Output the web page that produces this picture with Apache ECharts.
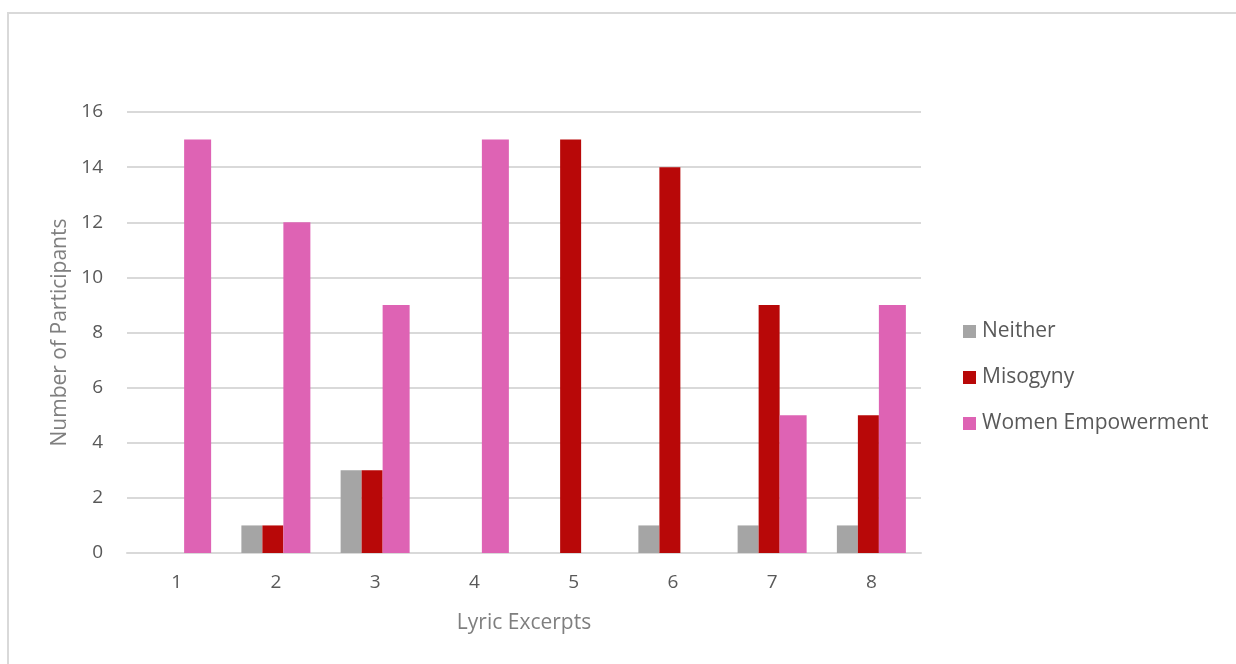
<!DOCTYPE html>
<html>
<head>
<meta charset="utf-8">
<script src="https://cdn.jsdelivr.net/npm/echarts@6/dist/echarts.min.js"></script>
<style>
  html, body { margin: 0; padding: 0; background: #fff; }
  #frame { position: absolute; left: 7px; top: 12px; width: 1240px; height: 670px; border: 2px solid #d9d9d9; box-sizing: border-box; }
  #chart { position: absolute; left: 0; top: 0; width: 1236px; height: 664px; }
</style>
</head>
<body>
<div id="frame"></div>
<div id="chart"></div>
<script>
const categories = ['1', '2', '3', '4', '5', '6', '7', '8'];
const neither = [0, 1, 3, 0, 0, 1, 1, 1];
const misogyny = [0, 1, 3, 0, 15, 14, 9, 5];
const empowerment = [15, 12, 9, 15, 0, 0, 5, 9];
const seriesNames = ['Neither', 'Misogyny', 'Women Empowerment'];

const font = 'Open Sans';
const chart = echarts.init(document.getElementById('chart'), null, { renderer: 'canvas' });

chart.setOption({
  animation: false,
  textStyle: { fontFamily: font },
  grid: { left: 127, right: 315, top: 112, bottom: 111 },
  legend: {
    orient: 'vertical',
    left: 958,
    top: 316,
    itemWidth: 13,
    itemHeight: 13,
    itemGap: 25,
    icon: 'rect',
    textStyle: { fontFamily: font, fontSize: 21, color: '#595959', padding: [0, 0, 0, 1] },
    data: seriesNames
  },
  xAxis: {
    type: 'category',
    data: categories,
    name: 'Lyric Excerpts',
    nameLocation: 'middle',
    nameGap: 60,
    nameTextStyle: { fontSize: 21, color: '#7f7f7f', fontFamily: font },
    axisLine: { lineStyle: { color: '#d9d9d9', width: 2 } },
    axisTick: { show: false },
    axisLabel: { fontSize: 19, color: '#595959', margin: 20 }
  },
  yAxis: {
    type: 'value',
    min: 0,
    max: 16,
    interval: 2,
    name: 'Number of Participants',
    nameLocation: 'middle',
    nameGap: 56,
    nameTextStyle: { fontSize: 21, color: '#7f7f7f', fontFamily: font },
    axisLine: { show: false },
    axisTick: { show: false },
    axisLabel: { fontSize: 19, color: '#595959', margin: 24 },
    splitLine: { lineStyle: { color: '#d9d9d9', width: 2 } }
  },
  series: [
    { name: seriesNames[0], type: 'bar', data: neither, barWidth: 21, barGap: '0%', itemStyle: { color: '#a5a5a5' } },
    { name: seriesNames[1], type: 'bar', data: misogyny, barWidth: 21, barGap: '0%', itemStyle: { color: '#b80808' } },
    { name: seriesNames[2], type: 'bar', data: empowerment, barWidth: 27, barGap: '0%', itemStyle: { color: '#de63b4' } }
  ]
});
</script>
</body>
</html>
